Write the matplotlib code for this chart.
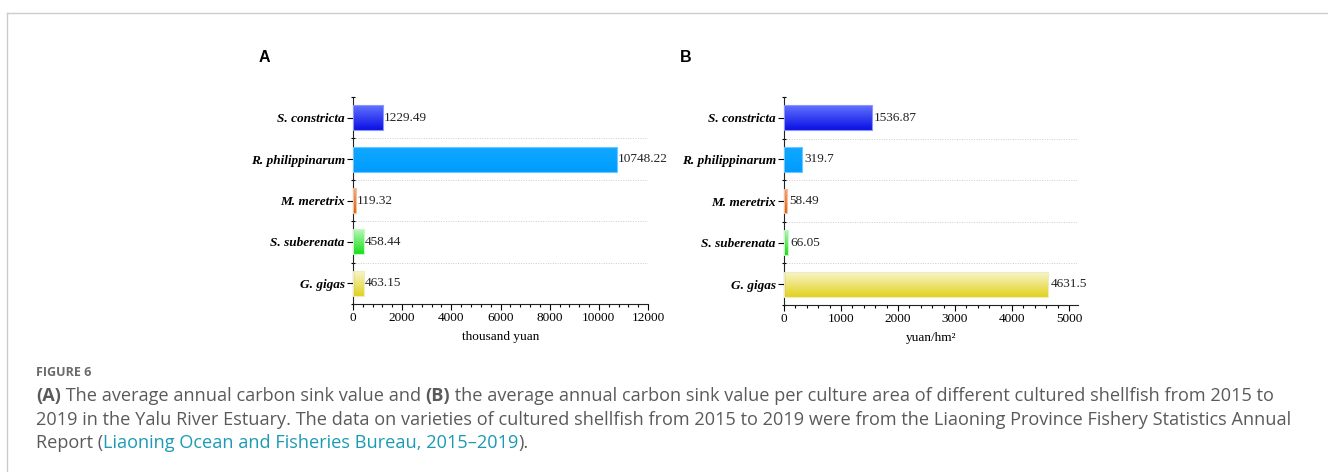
import numpy as np
import matplotlib
matplotlib.use("Agg")
import matplotlib.pyplot as plt
from matplotlib.colors import LinearSegmentedColormap
from matplotlib.ticker import MultipleLocator, FixedLocator

species = ["S. constricta", "R. philippinarum", "M. meretrix", "S. suberenata", "G. gigas"]
value_a = [1229.49, 10748.22, 119.32, 458.44, 463.15]
value_b = [1536.87, 319.7, 58.49, 66.05, 4631.5]
label_a = ["1229.49", "10748.22", "119.32", "458.44", "463.15"]
label_b = ["1536.87", "319.7", "58.49", "66.05", "4631.5"]

# gradient (top, bottom) colours per species
grad_top = ["#6272ff", "#10a8ff", "#f7ad80", "#b8f8b8", "#f8f5cc"]
grad_bot = ["#0a10e4", "#009cff", "#e0620e", "#18e018", "#e2d21e"]
edge_cols = ["#8a95ff", "#6cc8ff", "#f5c0a0", "#c8f8c8", "#f0ecc0"]

W, H = 1328, 472
fig = plt.figure(figsize=(W / 100, H / 100), dpi=100)

serif = ["Liberation Serif", "DejaVu Serif"]


def panel(rect, vals, labels, xmax, major, minor, xlabel, letter, letter_xy, gap):
    ax = fig.add_axes(rect)
    y = np.arange(len(species))
    bars = ax.barh(y, vals, height=0.6, color="none", edgecolor="none", zorder=2)
    for i, b in enumerate(bars):
        x0, y0 = b.get_x(), b.get_y()
        w, h = b.get_width(), b.get_height()
        cmap = LinearSegmentedColormap.from_list("g", [grad_top[i], grad_bot[i]])
        grad = np.linspace(0, 1, 64).reshape(-1, 1)
        im = ax.imshow(grad, cmap=cmap, aspect="auto",
                       extent=(x0, x0 + w, y0, y0 + h), origin="lower", zorder=2)
        im.set_clip_path(b)
        ax.barh(y[i], vals[i], height=0.6, color="none", edgecolor=edge_cols[i],
                linewidth=0.8, zorder=3)
        ax.text(vals[i] + xmax * gap, y[i], labels[i], va="center", ha="left",
                fontsize=9.5, family=serif, color="#222222", zorder=4)
    ax.set_ylim(4.5, -0.5)
    ax.set_xlim(0, xmax)
    ax.set_yticks(y)
    ax.set_yticklabels(species, fontsize=9.5, family=serif, fontweight="bold",
                       fontstyle="italic")
    ax.yaxis.set_minor_locator(FixedLocator([0.5, 1.5, 2.5, 3.5, 4.5, -0.5]))
    for yy in [0.5, 1.5, 2.5, 3.5]:
        ax.axhline(yy, color="#cccccc", linestyle=(0, (1, 1.5)), linewidth=0.7, zorder=1)
    ax.xaxis.set_major_locator(MultipleLocator(major))
    ax.xaxis.set_minor_locator(MultipleLocator(minor))
    for lab in ax.get_xticklabels():
        lab.set_family(serif)
        lab.set_fontsize(9.5)
    ax.tick_params(axis="x", which="major", length=4, width=0.8, direction="out", pad=2)
    ax.tick_params(axis="x", which="minor", length=2, width=0.8, direction="out")
    ax.tick_params(axis="y", which="major", length=4, width=0.8, direction="out", pad=2)
    ax.tick_params(axis="y", which="minor", length=3, width=0.8, direction="inout")
    for s in ["top", "right"]:
        ax.spines[s].set_visible(False)
    for s in ["left", "bottom"]:
        ax.spines[s].set_linewidth(0.8)
        ax.spines[s].set_color("#222222")
    ax.set_xlabel(xlabel, family=serif, fontsize=9.5, labelpad=5)
    fig.text(letter_xy[0] / W, 1 - letter_xy[1] / H, letter, fontsize=11.5,
             fontweight="bold", family=["Liberation Sans", "DejaVu Sans"],
             ha="left", va="center")
    return ax


panel([353 / W, 1 - 304 / H, 295 / W, 207 / H], value_a, label_a, 12000, 2000, 400,
      "thousand yuan", "A", (259, 57), 0.002)
panel([784 / W, 1 - 305 / H, 294 / W, 208 / H], value_b, label_b, 5158, 1000, 200,
      "yuan/hm\u00b2", "B", (680, 57), 0.008)

# outer frame lines
fig.add_artist(plt.Line2D([7 / W, 1.0], [1 - 13 / H, 1 - 13 / H], color="#cccccc",
                          linewidth=1, transform=fig.transFigure))
fig.add_artist(plt.Line2D([7 / W, 7 / W], [0, 1 - 13 / H], color="#cccccc",
                          linewidth=1, transform=fig.transFigure))

cap_font = ["Open Sans", "DejaVu Sans"]
gray = "#5a5a5a"
link = "#1b9ab3"
X0 = 36
r = fig.canvas.get_renderer()

line1 = [("(A)", gray, "bold"),
         (" The average annual carbon sink value and ", gray, "normal"),
         ("(B)", gray, "bold"),
         (" the average annual carbon sink value per culture area of different cultured shellfish from 2015 to", gray, "normal")]
line2 = [("2019 in the Yalu River Estuary. The data on varieties of cultured shellfish from "
          "2015 to 2019 were from the Liaoning Province Fishery Statistics Annual", gray, "normal")]
line3 = [("Report (", gray, "normal"),
         ("Liaoning Ocean and Fisheries Bureau, 2015\u20132019", link, "normal"),
         (").", gray, "normal")]


def write(segments, ypx, fs):
    x = X0
    texts = []
    for s, c, wgt in segments:
        t = fig.text(x / W, 1 - ypx / H, s, fontsize=fs, color=c, family=cap_font,
                     fontweight=wgt, va="center", ha="left")
        x = t.get_window_extent(r).x1
        texts.append(t)
    return x, texts


fig.text(X0 / W, 1 - 372 / H, "FIGURE 6", fontsize=9, color="#6a6a6a",
         family=cap_font, fontweight="bold", va="center", ha="left")

# fit caption size so that line 1 spans the same width as the reference
xend, probe = write(line1, 396, 11)
fs = 11 * (1272 - X0) / (xend - X0)
for t in probe:
    t.remove()
write(line1, 396, fs)
write(line2, 420, fs)
write(line3, 443, fs)

fig.savefig("out.png", dpi=100)
